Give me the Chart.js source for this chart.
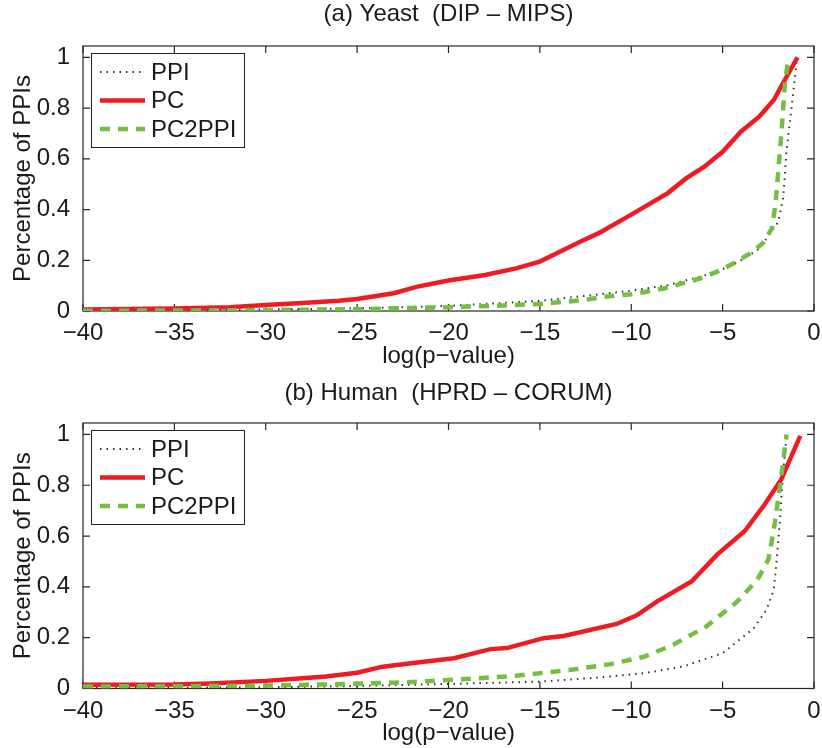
<!DOCTYPE html>
<html>
<head>
<meta charset="utf-8">
<script src="https://cdn.jsdelivr.net/npm/chart.js@4.4.1/dist/chart.umd.min.js"></script>
<style>
  html, body { margin: 0; padding: 0; background: #fff; }
  .panel { position: absolute; left: 0; width: 822px; height: 374px; }
</style>
</head>
<body>
<div class="panel" style="top:0"><canvas id="chartA" width="822" height="374"></canvas></div>
<div class="panel" style="top:374px"><canvas id="chartB" width="822" height="374"></canvas></div>
<script>
// ticks shared by both panels
const xTicks = [-40, -35, -30, -25, -20, -15, -10, -5, 0];
const yTicks = [0, 0.2, 0.4, 0.6, 0.8, 1];

// (a) Yeast (DIP - MIPS)
const yeastPpiX = [-40, -35, -30, -25, -20, -15, -12.6, -10, -9, -8, -6, -5, -4, -3, -2.4, -1.95, -1.68, -1.5, -1.22, -1.04, -0.95];
const yeastPpiY = [0.001, 0.003, 0.006, 0.01, 0.02, 0.04, 0.059, 0.08, 0.091, 0.102, 0.14, 0.165, 0.2, 0.245, 0.306, 0.352, 0.45, 0.635, 0.806, 0.925, 0.98];
const yeastPcX = [-40, -35, -32, -30, -28, -26, -25, -23, -21.7, -20, -18, -16.3, -15, -12.8, -11.8, -10, -8, -7, -6, -5, -4, -3, -2.2, -1.6, -0.9];
const yeastPcY = [0.006, 0.01, 0.015, 0.024, 0.032, 0.04, 0.047, 0.07, 0.096, 0.12, 0.142, 0.168, 0.195, 0.273, 0.306, 0.38, 0.465, 0.523, 0.569, 0.628, 0.707, 0.766, 0.832, 0.911, 1.0];
const yeastPc2ppiX = [-40, -35, -30, -25, -20, -17, -15, -12.6, -11.5, -10, -8.2, -6.2, -5.3, -4.4, -3.5, -2.8, -2.3, -2.1, -1.95, -1.77, -1.59, -1.4];
const yeastPc2ppiY = [0.001, 0.002, 0.004, 0.007, 0.015, 0.022, 0.028, 0.043, 0.056, 0.066, 0.089, 0.129, 0.155, 0.188, 0.227, 0.267, 0.326, 0.425, 0.556, 0.714, 0.898, 1.0];

// (b) Human (HPRD - CORUM)
const humanPpiX = [-40, -35, -30, -25, -20, -15, -12, -10.8, -9.3, -7.2, -5, -3.3, -2.6, -2.2, -2.04, -1.86, -1.68, -1.5];
const humanPpiY = [0.002, 0.003, 0.005, 0.01, 0.018, 0.027, 0.042, 0.05, 0.06, 0.086, 0.139, 0.237, 0.31, 0.389, 0.507, 0.664, 0.861, 0.99];
const humanPcX = [-40, -35, -33, -30, -28, -26.7, -25, -23.6, -21.7, -19.7, -17.7, -16.8, -14.8, -13.7, -10.8, -9.7, -8.6, -6.7, -5.3, -3.8, -2.7, -1.8, -0.75];
const humanPcY = [0.015, 0.016, 0.02, 0.03, 0.04, 0.047, 0.062, 0.086, 0.102, 0.119, 0.155, 0.159, 0.198, 0.207, 0.254, 0.288, 0.342, 0.421, 0.527, 0.619, 0.724, 0.822, 0.994];
const humanPc2ppiX = [-40, -35, -30.9, -25.4, -22.5, -19.4, -16.3, -13.4, -11.2, -9.3, -7.7, -5.9, -4.2, -3.1, -2.5, -2.2, -1.86, -1.5];
const humanPc2ppiY = [0.008, 0.009, 0.01, 0.018, 0.024, 0.036, 0.05, 0.073, 0.095, 0.125, 0.172, 0.244, 0.342, 0.428, 0.507, 0.625, 0.796, 1.0];

const FONT = 'Liberation Sans, Arial, Helvetica, sans-serif';
const TEXT = '#1a1a1a';
Chart.defaults.font.family = FONT;
Chart.defaults.font.size = 24;
Chart.defaults.color = TEXT;

const toPoints = (xs, ys) => xs.map((x, i) => ({ x: x, y: ys[i] }));
const fmt = v => String(v).replace('-', '\u2212');

// moldura estilo matlab: caixa fechada, ticks para dentro, legenda no canto
const boxAndLegend = {
  id: 'boxAndLegend',
  beforeDatasetsDraw(chart) {
    const { ctx, chartArea: a, scales: { x, y } } = chart;
    ctx.save();
    ctx.strokeStyle = '#262626';
    ctx.lineWidth = 1.2;
    ctx.strokeRect(a.left, a.top, a.right - a.left, a.bottom - a.top);
    ctx.beginPath();
    x.ticks.forEach(t => {
      const px = x.getPixelForValue(t.value);
      ctx.moveTo(px, a.bottom); ctx.lineTo(px, a.bottom - 7);
      ctx.moveTo(px, a.top); ctx.lineTo(px, a.top + 7);
    });
    y.ticks.forEach(t => {
      const py = y.getPixelForValue(t.value);
      ctx.moveTo(a.left, py); ctx.lineTo(a.left + 7, py);
      ctx.moveTo(a.right, py); ctx.lineTo(a.right - 7, py);
    });
    ctx.stroke();
    ctx.restore();
  },
  afterDatasetsDraw(chart) {
    const { ctx, chartArea: a } = chart;
    const lx = Math.round(a.left + 8), ly = Math.round(a.top + 7), lw = 153, lh = 94;
    ctx.save();
    ctx.fillStyle = '#fff';
    ctx.fillRect(lx, ly, lw, lh);
    ctx.strokeStyle = '#222';
    ctx.lineWidth = 1;
    ctx.strokeRect(lx + 0.5, ly + 0.5, lw, lh);
    chart.data.datasets.forEach((ds, i) => {
      const yy = ly + 19 + i * 28.5;
      ctx.strokeStyle = ds.borderColor;
      ctx.lineWidth = ds.borderWidth;
      ctx.setLineDash(ds.borderDash || []);
      ctx.beginPath();
      ctx.moveTo(lx + 9, yy);
      ctx.lineTo(lx + 54, yy);
      ctx.stroke();
      ctx.setLineDash([]);
      ctx.fillStyle = TEXT;
      ctx.font = '24px ' + FONT;
      ctx.textBaseline = 'middle';
      ctx.fillText(ds.label, lx + 60, yy + 1);
    });
    ctx.restore();
  }
};

function makeChart(id, title, ppi, pc, pc2ppi, g) {
  return new Chart(document.getElementById(id), {
    type: 'line',
    data: {
      datasets: [
        { label: 'PPI', data: ppi, borderColor: '#333', borderWidth: 2, borderDash: [1.5, 5], order: 3 },
        { label: 'PC', data: pc, borderColor: '#ed1c24', borderWidth: 4.5, order: 2 },
        { label: 'PC2PPI', data: pc2ppi, borderColor: '#72bf44', borderWidth: 4.5, borderDash: [10, 8], order: 1 }
      ]
    },
    options: {
      responsive: false,
      animation: false,
      devicePixelRatio: 1,
      layout: { padding: { left: 0, right: 8, top: 0, bottom: 0 } },
      elements: { point: { radius: 0 }, line: { tension: 0, borderCapStyle: 'butt' } },
      plugins: {
        legend: { display: false },
        tooltip: { enabled: false },
        title: {
          display: true, text: title, color: TEXT, fullSize: false, // centra no eixo, nao no canvas
          font: { size: 24, weight: 'normal' },
          padding: { top: g.titlePadTop, bottom: g.titlePadBottom }
        }
      },
      scales: {
        x: {
          type: 'linear', min: -40, max: 0,
          afterBuildTicks: s => { s.ticks = xTicks.map(v => ({ value: v })); },
          afterFit: s => { s.height = g.xAxisH; },
          grid: { display: false },
          border: { display: false },
          ticks: { padding: 0, color: TEXT, maxRotation: 0, autoSkip: false, callback: v => fmt(v) },
          title: { display: true, text: 'log(p\u2212value)', color: TEXT, padding: { top: 0, bottom: g.xTitlePad } }
        },
        y: {
          type: 'linear', min: 0, max: 1.045,
          afterBuildTicks: s => { s.ticks = yTicks.map(v => ({ value: v })); },
          afterFit: s => { s.width = 83; },
          grid: { display: false },
          border: { display: false },
          ticks: { padding: 5, color: TEXT, callback: v => fmt(v) },
          title: { display: true, text: 'Percentage of PPIs', color: TEXT, padding: { top: 8.6, bottom: 0 } }
        }
      }
    },
    plugins: [boxAndLegend]
  });
}

makeChart('chartA', '(a) Yeast  (DIP \u2013 MIPS)',
  toPoints(yeastPpiX, yeastPpiY), toPoints(yeastPcX, yeastPcY), toPoints(yeastPc2ppiX, yeastPc2ppiY),
  { titlePadTop: 0, titlePadBottom: 17.2, xAxisH: 63, xTitlePad: 3 });

makeChart('chartB', '(b) Human  (HPRD \u2013 CORUM)',
  toPoints(humanPpiX, humanPpiY), toPoints(humanPcX, humanPcY), toPoints(humanPc2ppiX, humanPc2ppiY),
  { titlePadTop: 4.6, titlePadBottom: 15.6, xAxisH: 59.5, xTitlePad: 0 });
</script>
</body>
</html>
